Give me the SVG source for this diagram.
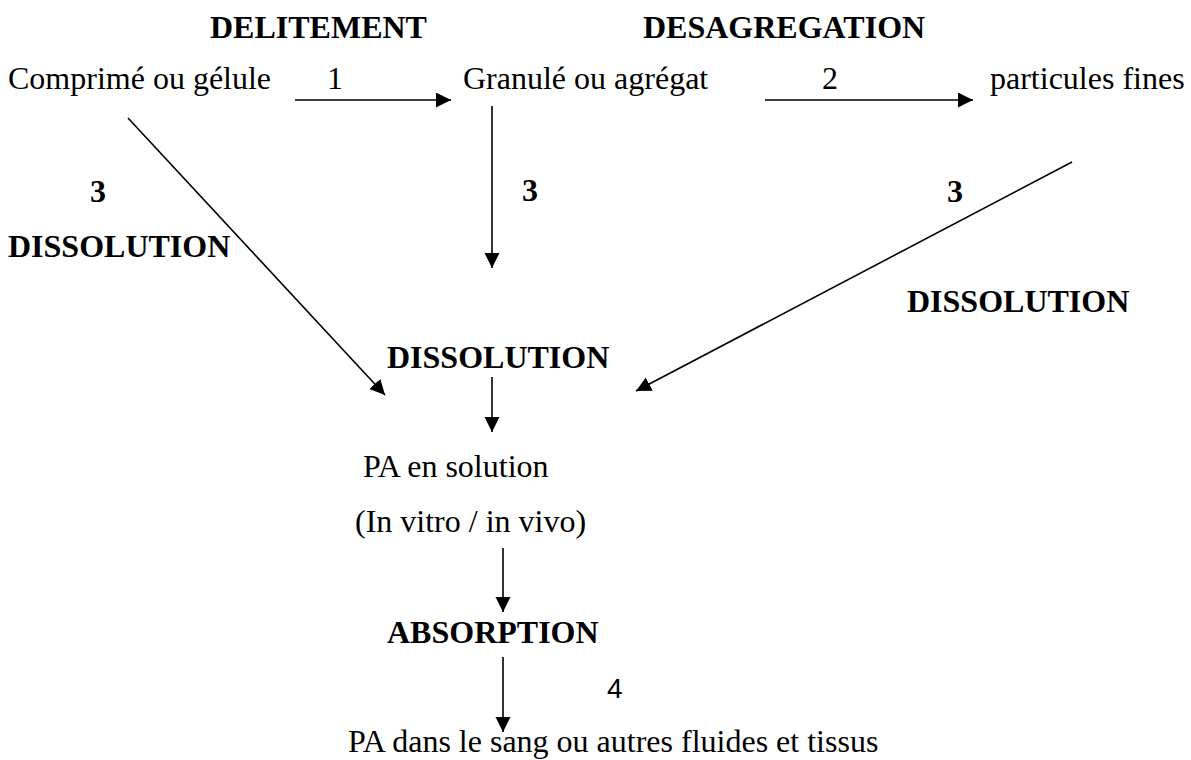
<svg xmlns="http://www.w3.org/2000/svg" width="1191" height="760" viewBox="0 0 1191 760">
<defs>
<style>
.t{font-family:"Liberation Serif","Times New Roman",serif;font-size:32px;fill:#000}
.b{font-family:"Liberation Serif","Times New Roman",serif;font-size:32px;font-weight:bold;fill:#000}
.s{font-family:"Liberation Sans",Arial,sans-serif;font-size:28px;fill:#000}
.c line{stroke:#000;stroke-width:1.6;marker-end:url(#ah)}
</style>
<marker id="ah" markerUnits="userSpaceOnUse" markerWidth="16" markerHeight="16" refX="15" refY="7.5" orient="auto" viewBox="0 0 16 16">
<path d="M0,0 L15,7.5 L0,15 Z" fill="#000"/>
</marker>
</defs>
<rect width="1191" height="760" fill="#fff"/>
<g id="labels">
<text class="b" x="210" y="38">DELITEMENT</text>
<text class="b" x="643" y="38">DESAGREGATION</text>
</g>
<g id="n-comprime"><text class="t" x="8" y="89">Comprimé ou gélule</text></g>
<g id="n-granule"><text class="t" x="463" y="89">Granulé ou agrégat</text></g>
<g id="n-particules"><text class="t" x="990" y="89">particules fines</text></g>
<g id="n-dissolution"><text class="b" x="387" y="368">DISSOLUTION</text></g>
<g id="n-pa-solution">
<text class="t" x="363" y="477">PA en solution</text>
<text class="t" x="355" y="532">(In vitro / in vivo)</text>
</g>
<g id="n-absorption"><text class="b" x="387" y="643">ABSORPTION</text></g>
<g id="n-pa-sang"><text class="t" x="348" y="752">PA dans le sang ou autres fluides et tissus</text></g>
<g id="edge-labels">
<text class="t" x="327" y="89">1</text>
<text class="t" x="822" y="89">2</text>
<text class="b" x="90" y="202">3</text>
<text class="b" x="522" y="201">3</text>
<text class="b" x="947" y="202">3</text>
<text class="b" x="8" y="257">DISSOLUTION</text>
<text class="b" x="907" y="312">DISSOLUTION</text>
<text class="s" x="607" y="698">4</text>
</g>
<g id="connectors" class="c">
<line x1="295" y1="100" x2="451" y2="100"/>
<line x1="765" y1="100" x2="973" y2="100"/>
<line x1="128" y1="118" x2="385" y2="395"/>
<line x1="492" y1="106" x2="492" y2="268"/>
<line x1="1072" y1="162" x2="636" y2="391"/>
<line x1="492" y1="377" x2="492" y2="432"/>
<line x1="503" y1="548" x2="503" y2="612"/>
<line x1="503" y1="657" x2="503" y2="732"/>
</g>
</svg>
